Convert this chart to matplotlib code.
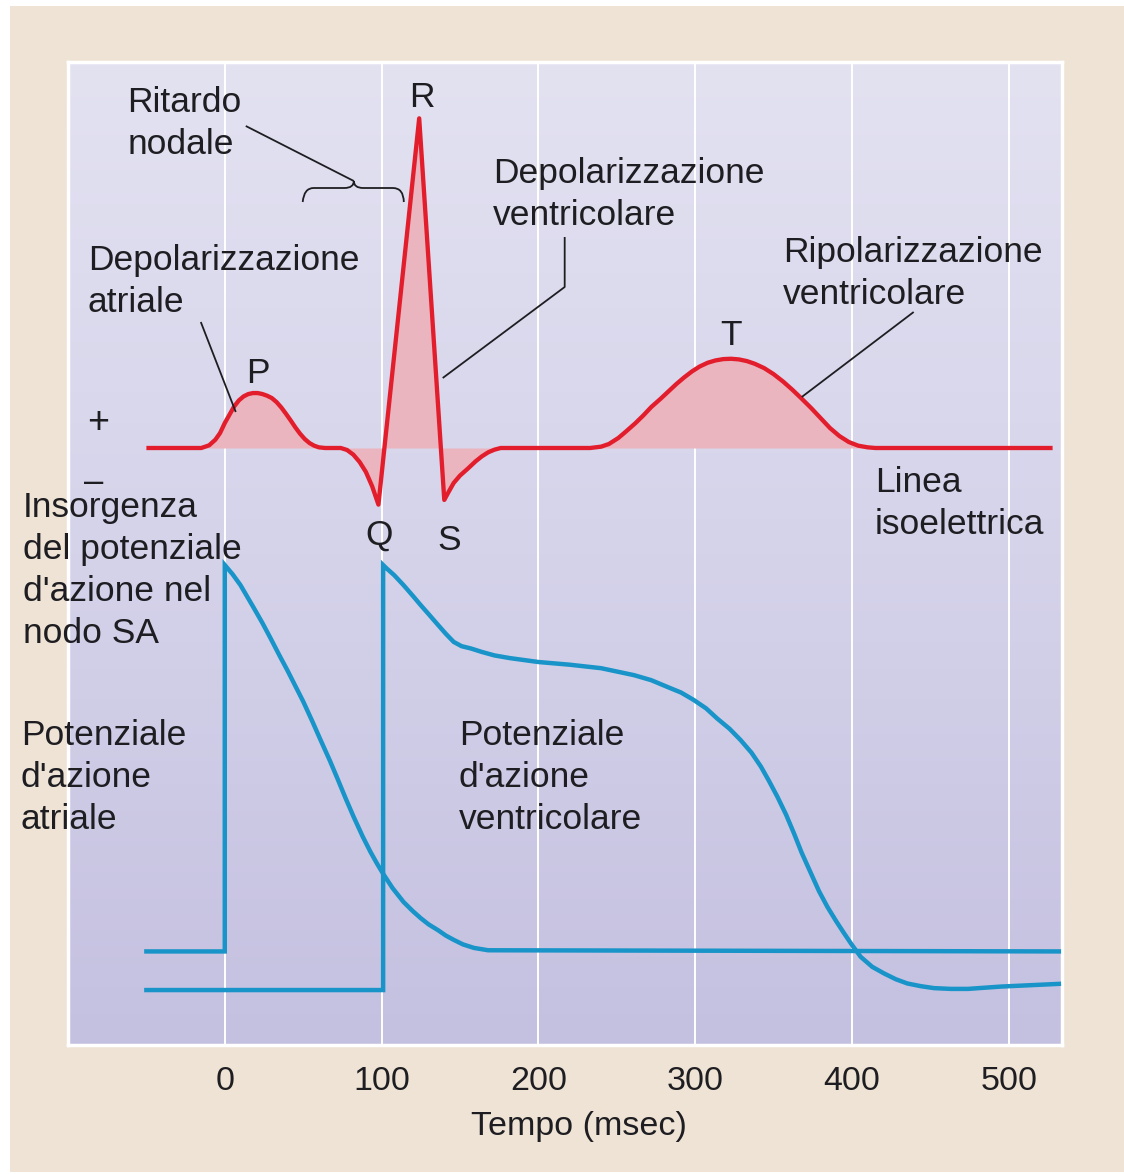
import numpy as np
import matplotlib
matplotlib.use("Agg")
import matplotlib.pyplot as plt
from matplotlib.patches import Rectangle, PathPatch
from matplotlib.path import Path
from matplotlib.colors import LinearSegmentedColormap

plt.rcParams['font.family'] = ['Liberation Sans', 'DejaVu Sans']

# ---------------------------------------------------------------- data
# ECG trace: time (ms) and amplitude (mV)
ecg_t = [-50, -15, -10, -6, -3, 0, 3, 6, 9, 12, 15, 18, 21, 24, 27, 30, 33,
         36, 39, 42, 45, 48, 51, 54, 57, 60, 64,
         74, 78, 82, 86, 90, 94, 98, 124, 140, 143, 146, 150, 155, 160, 164,
         168, 172, 176,
         233, 240, 245, 251, 256, 262, 267, 272, 278, 283, 288, 293, 298,
         303, 308, 313, 318, 323, 328, 333, 338, 344, 350, 356, 362, 368,
         374, 380, 386, 392, 398, 404, 410, 415, 528]
ecg_mv = [0.0, 0.0, 0.008, 0.025, 0.045, 0.075, 0.1, 0.125, 0.143, 0.155,
          0.162, 0.165, 0.165, 0.162, 0.157, 0.15, 0.138, 0.122, 0.103, 0.083,
          0.062, 0.043, 0.027, 0.015, 0.007, 0.002, 0.0,
          0.0, -0.006, -0.02, -0.042, -0.072, -0.115, -0.17, 0.99, -0.156,
          -0.13, -0.105, -0.083, -0.062, -0.04, -0.025, -0.013, -0.005, 0.0,
          0.0, 0.004, 0.012, 0.03, 0.05, 0.075, 0.098, 0.123, 0.148, 0.17,
          0.192, 0.212, 0.23, 0.245, 0.256, 0.263, 0.267, 0.268, 0.266, 0.261,
          0.253, 0.24, 0.222, 0.2, 0.175, 0.148, 0.12, 0.09, 0.06, 0.036,
          0.018, 0.007, 0.002, 0.0, 0.0]

# Atrial action potential: time (ms) and membrane potential (mV)
atrial_t = [-50, 0, 0, 5, 10, 18.5, 24, 29, 35, 40, 45, 50, 56, 61, 67, 72,
            77, 82, 88, 93, 97, 101, 107, 114, 120, 125, 130, 136, 141, 146,
            152, 159, 168, 532]
atrial_mv = [-80, -80, 20, 17.6, 14.8, 8.9, 5.0, 1.2, -3.5, -7.3, -11.3,
             -15.3, -20.6, -25.2, -30.6, -35.4, -40.3, -45.0, -50.3, -54.3,
             -57.2, -59.9, -63.6, -67.2, -69.6, -71.4, -73.0, -74.5, -75.9,
             -77.0, -78.2, -79.1, -79.7, -80]

# Ventricular action potential: time (ms) and membrane potential (mV)
vent_t = [-50, 101, 101, 103, 108, 114, 120, 125, 130, 136, 141, 146, 151,
          157, 164, 172, 182, 200, 220, 240, 261, 272, 282, 291, 299, 307,
          314, 322, 329, 336, 342, 347, 352.5, 358, 363, 368, 374, 379, 384.4,
          390, 395, 400, 405.6, 413, 420.5, 428, 435.4, 444, 452.4, 463, 474,
          495, 532]
vent_mv = [-90, -90, 20, 19.2, 17.4, 14.8, 12.0, 9.6, 7.3, 4.5, 2.2, 0.1,
           -1.0, -1.6, -2.5, -3.4, -4.1, -5.1, -5.8, -6.7, -8.5, -9.8, -11.5,
           -13.0, -14.9, -17.1, -19.7, -22.4, -25.3, -28.6, -32.2, -35.8,
           -40.0, -44.6, -49.4, -54.5, -59.9, -64.4, -68.5, -72.2, -75.3,
           -78.3, -81.4, -84.0, -85.7, -87.2, -88.3, -89.0, -89.5, -89.7,
           -89.7, -89.1, -88.4]

tick_values = [0, 100, 200, 300, 400, 500]
xlabel_text = "Tempo (msec)"

# ---------------------------------------------------------------- layout
W, H = 1124, 1174
ECG_BASE, ECG_GAIN = 597.0, 333.0      # vertical placement of the ECG trace
AP_ZERO, AP_GAIN = 402.7, 3.864        # vertical placement of action potentials
LINE_STEP = 42.0                       # distance between label lines
RED = '#E31E2C'
PINK = '#EAB5BF'
BLUE = '#1894C8'
INK = '#1E1E22'
FS = 25.5

fig = plt.figure(figsize=(W / 100, H / 100), dpi=100, facecolor='white')
fig.add_artist(Rectangle((10 / W, 2 / H), (W - 10) / W, (H - 8) / H,
                         transform=fig.transFigure, facecolor='#EFE3D5',
                         edgecolor='none', zorder=0))

ax = fig.add_axes([68 / W, (H - 1045) / H, (1062 - 68) / W, (1045 - 62) / H])
ax.set_xlim(-100, 534)
ax.set_ylim(0, 983)

# lavender gradient background
grad = LinearSegmentedColormap.from_list('lav', ['#C4C0E0', '#D5D3EA', '#E3E2F1'])
ax.imshow(np.linspace(0, 1, 256).reshape(-1, 1), extent=(-100, 534, 0, 983),
          aspect='auto', cmap=grad, origin='lower', zorder=0)

for sp in ax.spines.values():
    sp.set_color('white')
    sp.set_linewidth(2.5)

ax.set_axisbelow(True)
ax.set_xticks(tick_values)
ax.set_xticklabels([str(v) for v in tick_values])
ax.grid(axis='x', color='white', linewidth=1.4)
ax.set_yticks([])
ax.tick_params(axis='x', length=0, pad=15, labelsize=24.5, labelcolor=INK)

# ---------------------------------------------------------------- traces
ecg_t_a = np.array(ecg_t)
ecg_y = ECG_BASE + ECG_GAIN * np.array(ecg_mv)
ax.fill_between(ecg_t_a, ecg_y, ECG_BASE, color=PINK, linewidth=0, zorder=2)
ax.plot(ecg_t_a, ecg_y, color=RED, linewidth=3.1, zorder=3,
        solid_joinstyle='round', solid_capstyle='butt')

ax.plot(atrial_t, AP_ZERO + AP_GAIN * np.array(atrial_mv), color=BLUE,
        linewidth=3.2, zorder=3, solid_joinstyle='miter')
ax.plot(vent_t, AP_ZERO + AP_GAIN * np.array(vent_mv), color=BLUE,
        linewidth=3.2, zorder=3, solid_joinstyle='miter')


# ---------------------------------------------------------------- labels
def label(x, y, s, ha='left'):
    """Place a (possibly multi-line) label; y is the first line's baseline."""
    for i, line in enumerate(s.split("\n")):
        ax.text(x, y - i * LINE_STEP, line, ha=ha, va='baseline',
                fontsize=FS, color=INK, clip_on=False, zorder=5)


label(-62, 933, "Ritardo\nnodale")
label(125.6, 938, "R", ha='center')
label(171, 862, "Depolarizzazione\nventricolare")
label(-87.4, 775, "Depolarizzazione\natriale")
label(356, 783, "Ripolarizzazione\nventricolare")
label(322.7, 700, "T", ha='center')
label(21, 662, "P", ha='center')
ax.text(-81, 622, "+", ha='center', va='center', fontsize=27, color=INK)
ax.text(-83.5, 563, "\u2013", ha='center', va='center', fontsize=25, color=INK)
label(-128.8, 528, "Insorgenza\ndel potenziale\nd'azione nel\nnodo SA")
label(98.2, 500, "Q", ha='center')
label(142.9, 495, "S", ha='center')
label(414.5, 553, "Linea\nisoelettrica")
label(-130, 300, "Potenziale\nd'azione\natriale")
label(149.2, 300, "Potenziale\nd'azione\nventricolare")
ax.text(226, -90, xlabel_text, ha='center', va='baseline', fontsize=24.5,
        color=INK, clip_on=False)

# ---------------------------------------------------------------- leader lines
lk = dict(color=INK, linewidth=1.3, zorder=4, solid_capstyle='butt')
ax.plot([13.4, 82.3], [919, 864], **lk)                 # nodal delay
ax.plot([-15.3, 7], [723, 633], **lk)                    # atrial depolarisation
ax.plot([216.8, 216.8, 139], [808, 758, 667], **lk)      # ventricular depolarisation
ax.plot([439.4, 368], [733, 648], **lk)                  # ventricular repolarisation

# curly brace over the nodal delay
yh, ye, yt = 857, 843, 864
xl, xm, xr = 49.7, 82.3, 114.2
verts = [(xl, ye), (xl + 0.8, yh), (xl + 7, yh), (xm - 6, yh),
         (xm, yh), (xm, yt),
         (xm, yh), (xm + 6, yh),
         (xr - 7, yh), (xr - 0.2, yh), (xr, ye)]
codes = [Path.MOVETO, Path.CURVE3, Path.CURVE3, Path.LINETO,
         Path.CURVE3, Path.CURVE3,
         Path.CURVE3, Path.CURVE3,
         Path.LINETO, Path.CURVE3, Path.CURVE3]
ax.add_patch(PathPatch(Path(verts, codes), facecolor='none', edgecolor=INK,
                       linewidth=1.3, zorder=4))

fig.savefig('out.png', dpi=100, facecolor=fig.get_facecolor())
